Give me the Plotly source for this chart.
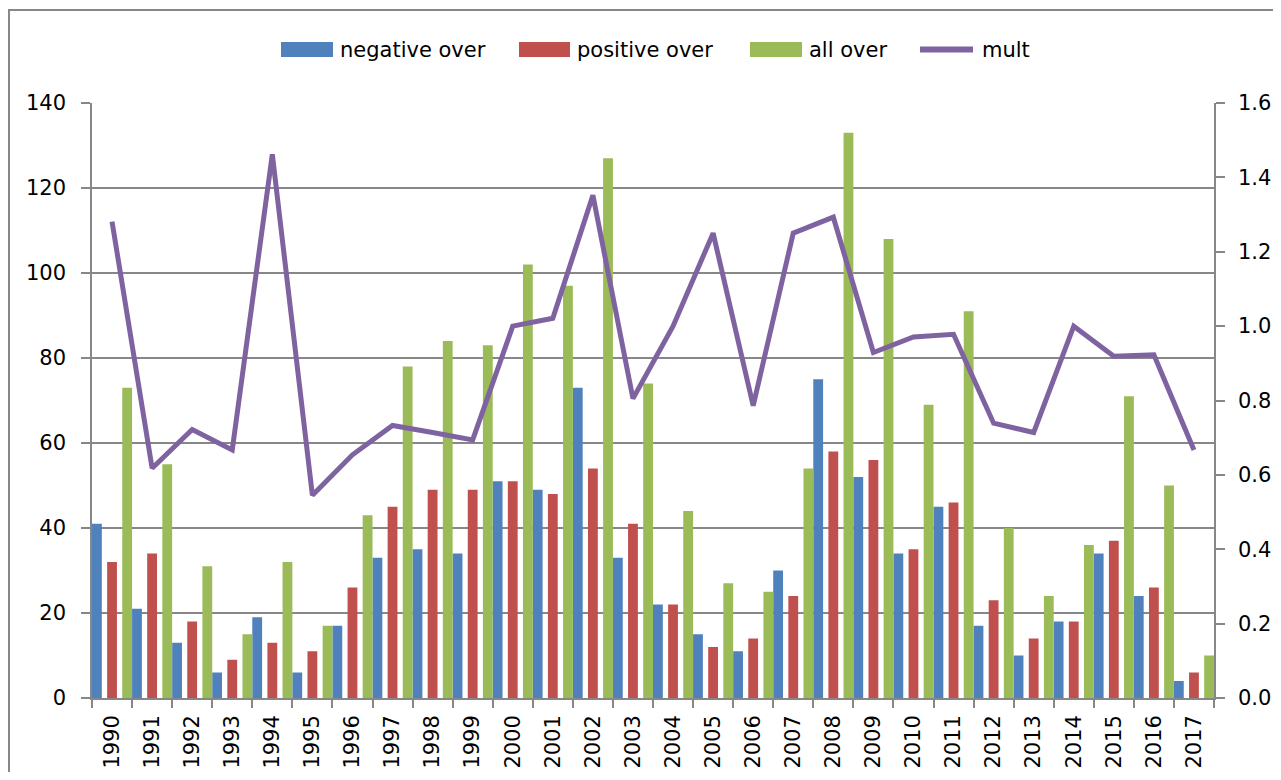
import plotly.graph_objects as go

years = [str(y) for y in range(1990, 2018)]
negative_over = [41, 21, 13, 6, 19, 6, 17, 33, 35, 34, 51, 49, 73, 33, 22, 15, 11, 30, 75, 52, 34, 45, 17, 10, 18, 34, 24, 4]
positive_over = [32, 34, 18, 9, 13, 11, 26, 45, 49, 49, 51, 48, 54, 41, 22, 12, 14, 24, 58, 56, 35, 46, 23, 14, 18, 37, 26, 6]
all_over = [73, 55, 31, 15, 32, 17, 43, 78, 84, 83, 102, 97, 127, 74, 44, 27, 25, 54, 133, 108, 69, 91, 40, 24, 36, 71, 50, 10]
mult = [1.281, 0.618, 0.722, 0.667, 1.462, 0.545, 0.654, 0.733, 0.714, 0.694, 1.000, 1.021, 1.352, 0.805, 1.000,
        1.250, 0.786, 1.250, 1.293, 0.929, 0.971, 0.978, 0.739, 0.714, 1.000, 0.919, 0.923, 0.667]

FONT = "DejaVu Sans, Verdana, sans-serif"
GRID = "#878787"
BW = 0.245
COLORS = {"negative over": "#4F81BD", "positive over": "#C0504D", "all over": "#9BBB59", "mult": "#7F63A1"}

# page body has an 8px margin; keep the whole page inside the 1281x780 window
BODY = 8
FIG_W, FIG_H = 1281 - 2 * BODY, 780 - 2 * BODY
# plot area in window pixels
PX_L, PX_R, PX_T, PX_B = 92, 1214, 103, 698


def px_x(px):
    return (px - PX_L) / (PX_R - PX_L)


def px_y(py):
    return (PX_B - py) / (PX_B - PX_T)


fig = go.Figure()
fig.add_trace(go.Bar(x=years, y=negative_over, name="negative over",
                     marker=dict(color=COLORS["negative over"], line=dict(width=0)), width=BW, offset=-0.5))
fig.add_trace(go.Bar(x=years, y=positive_over, name="positive over",
                     marker=dict(color=COLORS["positive over"], line=dict(width=0)), width=BW, offset=-BW / 2))
fig.add_trace(go.Bar(x=years, y=all_over, name="all over",
                     marker=dict(color=COLORS["all over"], line=dict(width=0)), width=BW, offset=0.5 - BW))
fig.add_trace(go.Scatter(x=years, y=mult, name="mult", mode="lines", yaxis="y2",
                         line=dict(color=COLORS["mult"], width=5)))

fig.update_layout(
    width=FIG_W, height=FIG_H,
    margin=dict(l=PX_L - BODY, r=BODY + FIG_W - PX_R, t=PX_T - BODY, b=BODY + FIG_H - PX_B),
    paper_bgcolor="white", plot_bgcolor="white",
    font=dict(family=FONT, size=21, color="black"),
    barmode="overlay",
    showlegend=False,
    xaxis=dict(type="category", range=[-0.5, 27.5], tickson="boundaries", ticks="outside", ticklen=8,
               tickcolor=GRID, tickwidth=1.5, showline=True, linecolor=GRID, linewidth=1.5,
               tickangle=-90, showgrid=False, ticklabelstandoff=7, automargin=False,
               tickfont=dict(family=FONT, size=21)),
    yaxis=dict(range=[0, 140], dtick=20, tick0=0, showgrid=True, gridcolor=GRID, gridwidth=1.5,
               ticks="outside", ticklen=9, tickcolor=GRID, tickwidth=1.5, showline=True, linecolor=GRID,
               linewidth=1.5, zeroline=False, ticklabelstandoff=11, automargin=False,
               tickfont=dict(family=FONT, size=21)),
    yaxis2=dict(range=[0, 1.6], dtick=0.2, tick0=0, tickformat=".1f", overlaying="y", side="right",
                showgrid=False, ticks="outside", ticklen=9, tickcolor=GRID, tickwidth=1.5, showline=True,
                linecolor=GRID, linewidth=1.5, zeroline=False, ticklabelstandoff=9, automargin=False,
                tickfont=dict(family=FONT, size=21)),
)

# outer chart border (top and left edges visible)
fig.add_shape(type="rect", xref="paper", yref="paper", x0=px_x(9), x1=px_x(1300),
              y0=px_y(800), y1=px_y(10), line=dict(color="#878787", width=2), layer="below")

# legend (wide swatches as in the reference)
legend_items = [("negative over", 281, 333, 338), ("positive over", 519, 570, 575),
                ("all over", 750, 802, 807)]
for name, sx0, sx1, tx in legend_items:
    fig.add_shape(type="rect", xref="paper", yref="paper", x0=px_x(sx0), x1=px_x(sx1),
                  y0=px_y(57), y1=px_y(42), fillcolor=COLORS[name], line=dict(width=0))
    fig.add_annotation(xref="paper", yref="paper", x=px_x(tx), y=px_y(50), text=name, showarrow=False,
                       xanchor="left", yanchor="middle", font=dict(family=FONT, size=21, color="black"))
fig.add_shape(type="line", xref="paper", yref="paper", x0=px_x(920), x1=px_x(973), y0=px_y(49.5),
              y1=px_y(49.5), line=dict(color=COLORS["mult"], width=6))
fig.add_annotation(xref="paper", yref="paper", x=px_x(980), y=px_y(50), text="mult", showarrow=False,
                   xanchor="left", yanchor="middle", font=dict(family=FONT, size=21, color="black"))

fig.write_html("out.html")
